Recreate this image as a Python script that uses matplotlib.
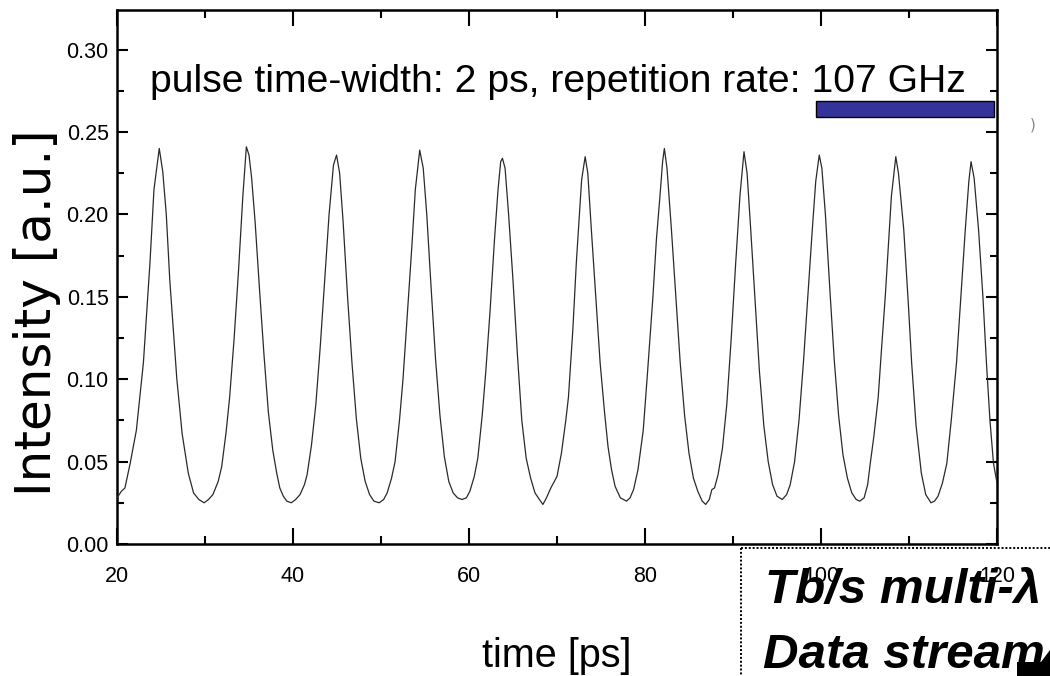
import matplotlib
matplotlib.use("Agg")
import matplotlib.pyplot as plt
from matplotlib.patches import Rectangle, Polygon
from matplotlib.lines import Line2D
from matplotlib.ticker import MultipleLocator

# pulse train: time [ps], intensity [a.u.]
time_ps = [
    20.0, 20.5, 20.9, 21.5, 22.2, 23.0, 23.75, 24.2, 24.8,
    25.2, 25.6, 26.0, 26.8, 27.4, 28.1, 28.7, 29.3, 29.9,
    30.4, 30.9, 31.5, 31.9, 32.4, 32.8, 33.3, 33.8, 34.3, 34.7,
    35.0, 35.3, 35.7, 36.25, 36.7, 37.2, 37.7, 38.15, 38.5, 38.9, 39.3, 39.8,
    40.3, 40.8, 41.3, 41.6, 42.1, 42.6, 43.1, 43.6, 44.1, 44.6, 44.95,
    45.3, 45.7, 46.2, 46.7, 47.2, 47.7, 48.2, 48.7, 49.2, 49.8,
    50.3, 50.7, 51.2, 51.6, 52.1, 52.5, 53.0, 53.5, 53.9, 54.4,
    54.8, 55.2, 55.7, 56.2, 56.7, 57.2, 57.7, 58.2, 58.7, 59.2,
    59.7, 60.1, 60.6, 61.0, 61.5, 61.9, 62.4, 62.9, 63.3, 63.6, 63.8,
    64.1, 64.5, 65.0, 65.5, 66.0, 66.5, 67.0, 67.5, 68.0, 68.4,
    68.8, 69.3, 69.7, 70.0, 70.5, 71.0, 71.3, 71.8, 72.2, 72.8, 73.2,
    73.5, 73.9, 74.4, 74.9, 75.4, 75.8, 76.2, 76.6, 77.2, 77.9,
    78.3, 78.7, 79.2, 79.8, 80.3, 80.9, 81.3, 81.7, 82.0, 82.2,
    82.5, 83.0, 83.5, 84.0, 84.5, 85.0, 85.5, 86.0, 86.5, 86.9, 87.3, 87.6, 87.9,
    88.3, 88.8, 89.3, 89.8, 90.3, 90.8, 91.25,
    91.6, 92.0, 92.5, 93.0, 93.5, 94.0, 94.5, 95.0, 95.6,
    96.1, 96.5, 97.0, 97.5, 98.0, 98.5, 99.0, 99.4, 99.8,
    100.1, 100.5, 101.0, 101.5, 102.0, 102.5, 103.0, 103.5, 104.0, 104.4,
    104.9, 105.3, 105.6, 106.0, 106.5, 106.9, 107.3, 107.7, 108.0, 108.5,
    108.8, 109.4, 109.9, 110.3, 110.8, 111.4, 111.9, 112.5,
    112.9, 113.3, 113.8, 114.3, 114.8, 115.4, 115.9, 116.4, 116.8, 117.05,
    117.4, 117.9, 118.4, 118.8, 119.2, 119.6, 120.0,
]
intensity = [
    0.028, 0.032, 0.034, 0.049, 0.069, 0.110, 0.171, 0.215, 0.240,
    0.226, 0.200, 0.160, 0.100, 0.067, 0.043, 0.031, 0.027, 0.025,
    0.027, 0.030, 0.038, 0.047, 0.068, 0.089, 0.124, 0.165, 0.211, 0.241,
    0.236, 0.222, 0.195, 0.150, 0.115, 0.080, 0.057, 0.043, 0.034, 0.029, 0.026, 0.025,
    0.027, 0.030, 0.036, 0.042, 0.060, 0.085, 0.120, 0.160, 0.200, 0.230, 0.236,
    0.225, 0.195, 0.150, 0.110, 0.076, 0.052, 0.038, 0.030, 0.026, 0.025,
    0.027, 0.031, 0.040, 0.050, 0.075, 0.100, 0.140, 0.180, 0.215, 0.239,
    0.228, 0.200, 0.155, 0.112, 0.078, 0.053, 0.038, 0.031, 0.028, 0.027,
    0.028, 0.032, 0.041, 0.052, 0.078, 0.104, 0.142, 0.185, 0.215, 0.232, 0.234,
    0.228, 0.200, 0.160, 0.115, 0.075, 0.052, 0.040, 0.031, 0.027, 0.024,
    0.028, 0.034, 0.038, 0.041, 0.055, 0.075, 0.089, 0.130, 0.171, 0.221, 0.235,
    0.225, 0.191, 0.150, 0.110, 0.080, 0.059, 0.045, 0.035, 0.028, 0.026,
    0.028, 0.033, 0.045, 0.069, 0.105, 0.150, 0.185, 0.211, 0.232, 0.240,
    0.228, 0.191, 0.150, 0.110, 0.078, 0.055, 0.040, 0.032, 0.026, 0.024, 0.027, 0.033, 0.034,
    0.042, 0.058, 0.085, 0.125, 0.170, 0.212, 0.238,
    0.225, 0.192, 0.148, 0.105, 0.072, 0.050, 0.036, 0.029, 0.027,
    0.030, 0.036, 0.050, 0.075, 0.110, 0.150, 0.190, 0.220, 0.236,
    0.228, 0.200, 0.155, 0.112, 0.078, 0.054, 0.040, 0.031, 0.027, 0.026,
    0.028, 0.036, 0.049, 0.065, 0.089, 0.120, 0.150, 0.185, 0.211, 0.235,
    0.225, 0.191, 0.148, 0.110, 0.072, 0.043, 0.030, 0.025,
    0.026, 0.029, 0.037, 0.049, 0.075, 0.110, 0.150, 0.191, 0.220, 0.232,
    0.222, 0.191, 0.150, 0.110, 0.075, 0.049, 0.037,
]

x_ticks = [20, 40, 60, 80, 100, 120]
y_ticks = [0.00, 0.05, 0.10, 0.15, 0.20, 0.25, 0.30]
y_tick_labels = ["0.00", "0.05", "0.10", "0.15", "0.20", "0.25", "0.30"]

# blue marker bar near the title (time range, intensity range)
bar_time = [99.4, 119.7]
bar_level = [0.259, 0.269]

title_text = "pulse time-width: 2 ps, repetition rate: 107 GHz"
box_lines = ["Tb/s multi-\u03bb", "Data stream"]

sans = ["Liberation Sans", "DejaVu Sans"]

fig = plt.figure(figsize=(10.5, 6.76), dpi=100)
ax = fig.add_axes([117 / 1050, 1 - 544 / 676, 880 / 1050, 534 / 676])

ax.plot(time_ps, intensity, color="#2a2a2a", lw=0.9, zorder=3)

ax.add_patch(Rectangle((bar_time[0], bar_level[0]),
                       bar_time[1] - bar_time[0], bar_level[1] - bar_level[0],
                       facecolor="#333399", edgecolor="black", lw=1.0, zorder=4))

ax.set_xlim(20, 120)
ax.set_ylim(0, 0.324)
ax.set_xticks(x_ticks)
ax.set_yticks(y_ticks)
ax.set_yticklabels(y_tick_labels)
ax.xaxis.set_minor_locator(MultipleLocator(10))
ax.yaxis.set_minor_locator(MultipleLocator(0.025))

for s in ax.spines.values():
    s.set_linewidth(1.8)

ax.tick_params(which="both", direction="in", top=True, right=True, width=1.5)
ax.tick_params(axis="x", which="major", length=11.5, pad=16)
ax.tick_params(axis="x", which="minor", length=5.8)
ax.tick_params(axis="y", which="major", length=8, pad=6)
ax.tick_params(axis="y", which="minor", length=5)
for lab in ax.get_xticklabels() + ax.get_yticklabels():
    lab.set_family(sans)
    lab.set_fontsize(15.5)
ax.xaxis.set_zorder(5)

ax.text(23.75, 0.2745, title_text, family=sans, fontsize=28.2,
        ha="left", va="baseline", zorder=5)

fig.text(37 / 1050, 1 - 313 / 676, "Intensity [a.u.]", family="DejaVu Sans",
         fontsize=36, rotation=90, ha="center", va="center")
fig.text(557 / 1050, 1 - 667 / 676, "time [ps]", family=sans,
         fontsize=28.5, ha="center", va="baseline")

# boxed caption in the lower right corner
ax.text(765 / 1050, 1 - 603 / 676, box_lines[0], transform=fig.transFigure,
        family="Liberation Sans", weight="bold", style="italic", fontsize=35.5,
        ha="left", va="baseline", clip_on=False, zorder=1)
ax.text(763 / 1050, 1 - 668 / 676, box_lines[1], transform=fig.transFigure,
        family="Liberation Sans", weight="bold", style="italic", fontsize=35.5,
        ha="left", va="baseline", clip_on=False, zorder=1)
fig.add_artist(Line2D([741 / 1050, 741 / 1050], [1 - 548 / 676, 0],
                      color="black", lw=1.4, ls=(0, (1, 1))))
fig.add_artist(Line2D([741 / 1050, 1.0], [1 - 548 / 676, 1 - 548 / 676],
                      color="black", lw=1.4, ls=(0, (1, 1))))
fig.add_artist(Polygon([(1017 / 1050, 0), (1017 / 1050, 1 - 662 / 676),
                        (1041 / 1050, 1 - 662 / 676), (1.0, 1 - 650 / 676),
                        (1.0, 0)], closed=True, facecolor="black",
                       edgecolor="none", transform=fig.transFigure))
fig.text(1033 / 1050, 1 - 125 / 676, ")", color="#888888", fontsize=11,
         ha="center", va="center")

fig.savefig("out.png", dpi=100)
